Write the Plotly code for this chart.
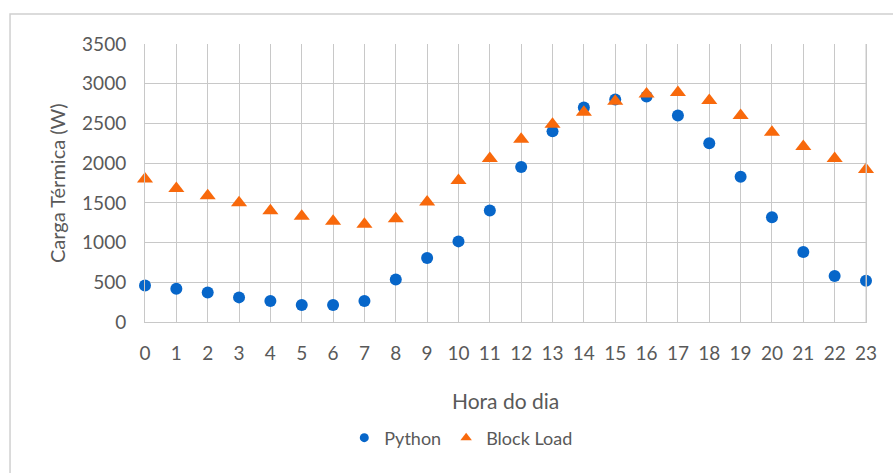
import plotly.graph_objects as go

# Hourly thermal load (W) for one day
horas = list(range(24))
python_w = [460, 420, 370, 310, 265, 215, 215, 265, 535, 805,
            1015, 1405, 1950, 2400, 2700, 2800, 2840, 2600, 2250, 1830,
            1320, 880, 580, 520]
block_load_w = [1800, 1680, 1590, 1500, 1400, 1330, 1270, 1230, 1300, 1510,
                1780, 2060, 2300, 2490, 2640, 2780, 2870, 2890, 2790, 2600,
                2390, 2210, 2060, 1920]
y_ticks = [0, 500, 1000, 1500, 2000, 2500, 3000, 3500]

FONT = "Lato"
TXT = "#595959"
GRID = "#c8c8c8"
BLUE = "#0766C9"
ORANGE = "#F8690C"

fig = go.Figure()
fig.add_trace(go.Scatter(
    x=horas, y=python_w, mode="markers", name="Python", legendgroup="py",
    marker=dict(symbol="circle", size=12, color=BLUE),
    cliponaxis=False, showlegend=False,
))
fig.add_trace(go.Scatter(
    x=horas, y=block_load_w, mode="markers", name="Block Load", legendgroup="bl",
    marker=dict(symbol="triangle-up", size=14, color=ORANGE),
    cliponaxis=False, showlegend=False,
))
# legend entries with smaller symbols
fig.add_trace(go.Scatter(
    x=[None], y=[None], mode="markers", name="Python", legendgroup="py",
    marker=dict(symbol="circle", size=9, color=BLUE),
))
fig.add_trace(go.Scatter(
    x=[None], y=[None], mode="markers", name="Block Load", legendgroup="bl",
    marker=dict(symbol="triangle-up", size=10, color=ORANGE),
))

fig.update_layout(
    width=893, height=473,
    margin=dict(l=145, r=27, t=44, b=151, autoexpand=False),
    paper_bgcolor="white", plot_bgcolor="white",
    font=dict(family=FONT, color=TXT),
    showlegend=True,
    legend=dict(orientation="h", x=0.438, xanchor="center", y=-0.417, yanchor="middle",
                font=dict(size=18, color=TXT, family=FONT),
                itemsizing="trace", tracegroupgap=0, itemwidth=30),
    xaxis=dict(
        range=[0, 23], tickmode="array", tickvals=horas,
        ticktext=[str(h) for h in horas],
        showgrid=True, gridcolor=GRID, gridwidth=1,
        zeroline=False, showline=True, linecolor=GRID,
        tickfont=dict(size=19, color=TXT, family=FONT),
        ticks="", ticklabelstandoff=14, automargin=False,
    ),
    yaxis=dict(
        range=[0, 3500], tickmode="array", tickvals=y_ticks,
        ticktext=[str(v) for v in y_ticks],
        showgrid=True, gridcolor=GRID, gridwidth=1,
        zeroline=False, showline=True, linecolor=GRID, mirror=True,
        tickfont=dict(size=19, color=TXT, family=FONT),
        ticks="", ticklabelstandoff=14, automargin=False,
    ),
    annotations=[
        dict(text="Carga Térmica (W)", xref="paper", yref="paper",
             x=-0.122, y=0.5, xanchor="center", yanchor="middle",
             textangle=-90, showarrow=False,
             font=dict(size=20, color=TXT, family=FONT)),
        dict(text="Hora do dia", xref="paper", yref="paper",
             x=0.5, y=-0.282, xanchor="center", yanchor="middle",
             showarrow=False, font=dict(size=21, color=TXT, family=FONT)),
    ],
    shapes=[
        dict(type="rect", xref="paper", yref="paper",
             x0=-0.1872, x1=1.05, y0=-0.6, y1=1.108,
             line=dict(color="#d0d0d0", width=1.5), fillcolor="rgba(0,0,0,0)",
             layer="below"),
        dict(type="line", xref="paper", yref="paper",
             x0=1, x1=1, y0=0, y1=1, line=dict(color=GRID, width=1)),
    ],
)

fig.write_html("out.html")
